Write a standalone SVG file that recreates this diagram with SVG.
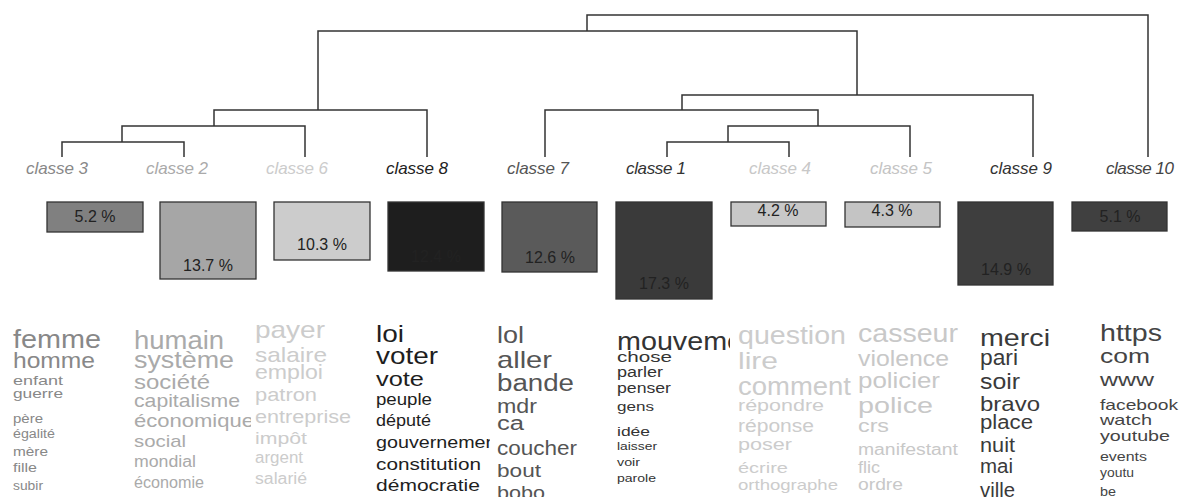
<svg xmlns="http://www.w3.org/2000/svg" width="1199" height="497" viewBox="0 0 1199 497">
<style>
.lbl{font-family:"Liberation Sans",Arial,sans-serif;font-style:italic;font-size:17px;text-anchor:middle}
.box{stroke:#333;stroke-width:1.3}
.pct{font-family:"Liberation Sans",Arial,sans-serif;font-size:16px;fill:#222;text-anchor:middle}
.w{font-family:"Liberation Sans",Arial,sans-serif}
.edge{fill:none;stroke:#333;stroke-width:1.5}
</style>
<defs>
<clipPath id="c2"><rect x="130" y="310" width="121" height="190"/></clipPath>
<clipPath id="c4"><rect x="372" y="310" width="118" height="190"/></clipPath>
<clipPath id="c6"><rect x="612" y="310" width="118" height="190"/></clipPath>
</defs>
<rect width="1199" height="497" fill="#fff"/>
<g id="connectors" class="edge">
<path d="M587,31 V15 H1148 V157"/>
<path d="M318,110 V31 H857 V95"/>
<path d="M214,126 V110 H427 V157"/>
<path d="M122,142 V126 H305 V157"/>
<path d="M62,157 V142 H184 V157"/>
<path d="M682,110 V95 H1033 V157"/>
<path d="M545,157 V110 H818 V126"/>
<path d="M728,142 V126 H910 V157"/>
<path d="M667,157 V142 H789 V157"/>
</g>
<g id="classe3">
<text class="lbl" x="57" y="174" fill="#888" textLength="62" lengthAdjust="spacing">classe 3</text>
<rect class="box" x="47" y="202" width="96" height="30" fill="#808080"/>
<text class="pct" x="95" y="222">5.2 %</text>
<g class="w" fill="#888">
<text x="13" y="348" font-size="26" textLength="88" lengthAdjust="spacingAndGlyphs">femme</text>
<text x="13" y="368" font-size="22" textLength="82" lengthAdjust="spacingAndGlyphs">homme</text>
<text x="13" y="385" font-size="13" textLength="50" lengthAdjust="spacingAndGlyphs">enfant</text>
<text x="13" y="398" font-size="13" textLength="50" lengthAdjust="spacingAndGlyphs">guerre</text>
<text x="13" y="423" font-size="13" textLength="30" lengthAdjust="spacingAndGlyphs">père</text>
<text x="13" y="438" font-size="12" textLength="42" lengthAdjust="spacingAndGlyphs">égalité</text>
<text x="13" y="456" font-size="12" textLength="35" lengthAdjust="spacingAndGlyphs">mère</text>
<text x="13" y="472" font-size="12" textLength="24" lengthAdjust="spacingAndGlyphs">fille</text>
<text x="13" y="490" font-size="12" textLength="30" lengthAdjust="spacingAndGlyphs">subir</text>
</g>
</g>
<g id="classe2">
<text class="lbl" x="177" y="174" fill="#aaa" textLength="62" lengthAdjust="spacing">classe 2</text>
<rect class="box" x="160" y="202" width="96" height="77" fill="#a6a6a6"/>
<text class="pct" x="208" y="271">13.7 %</text>
<g class="w" fill="#aaa" clip-path="url(#c2)">
<text x="134" y="349" font-size="25" textLength="90" lengthAdjust="spacingAndGlyphs">humain</text>
<text x="134" y="368" font-size="24" textLength="100" lengthAdjust="spacingAndGlyphs">système</text>
<text x="134" y="389" font-size="21" textLength="76" lengthAdjust="spacingAndGlyphs">société</text>
<text x="134" y="407" font-size="19" textLength="106" lengthAdjust="spacingAndGlyphs">capitalisme</text>
<text x="134" y="427" font-size="18" textLength="120" lengthAdjust="spacingAndGlyphs">économique</text>
<text x="134" y="447" font-size="17" textLength="52" lengthAdjust="spacingAndGlyphs">social</text>
<text x="134" y="467" font-size="16" textLength="62" lengthAdjust="spacingAndGlyphs">mondial</text>
<text x="134" y="488" font-size="16" textLength="70" lengthAdjust="spacingAndGlyphs">économie</text>
</g>
</g>
<g id="classe6">
<text class="lbl" x="297" y="174" fill="#ccc" textLength="62" lengthAdjust="spacing">classe 6</text>
<rect class="box" x="274" y="202" width="96" height="58" fill="#cccccc"/>
<text class="pct" x="322" y="250">10.3 %</text>
<g class="w" fill="#ccc">
<text x="255" y="338" font-size="24" textLength="70" lengthAdjust="spacingAndGlyphs">payer</text>
<text x="255" y="362" font-size="21" textLength="72" lengthAdjust="spacingAndGlyphs">salaire</text>
<text x="255" y="379" font-size="20" textLength="68" lengthAdjust="spacingAndGlyphs">emploi</text>
<text x="255" y="401" font-size="19" textLength="62" lengthAdjust="spacingAndGlyphs">patron</text>
<text x="255" y="423" font-size="19" textLength="96" lengthAdjust="spacingAndGlyphs">entreprise</text>
<text x="255" y="444" font-size="17" textLength="52" lengthAdjust="spacingAndGlyphs">impôt</text>
<text x="255" y="463" font-size="16" textLength="48" lengthAdjust="spacingAndGlyphs">argent</text>
<text x="255" y="484" font-size="16" textLength="52" lengthAdjust="spacingAndGlyphs">salarié</text>
</g>
</g>
<g id="classe8">
<text class="lbl" x="417" y="174" fill="#222" textLength="62" lengthAdjust="spacing">classe 8</text>
<rect class="box" x="388" y="202" width="96" height="69" fill="#1e1e1e"/>
<text class="pct" x="436" y="262">12.4 %</text>
<g class="w" fill="#1e1e1e" clip-path="url(#c4)">
<text x="376" y="342" font-size="24" textLength="28" lengthAdjust="spacingAndGlyphs">loi</text>
<text x="376" y="364" font-size="24" textLength="62" lengthAdjust="spacingAndGlyphs">voter</text>
<text x="376" y="386" font-size="20" textLength="48" lengthAdjust="spacingAndGlyphs">vote</text>
<text x="376" y="405" font-size="17" textLength="56" lengthAdjust="spacingAndGlyphs">peuple</text>
<text x="376" y="426" font-size="17" textLength="55" lengthAdjust="spacingAndGlyphs">député</text>
<text x="376" y="448" font-size="17" textLength="126" lengthAdjust="spacingAndGlyphs">gouvernement</text>
<text x="376" y="470" font-size="17" textLength="105" lengthAdjust="spacingAndGlyphs">constitution</text>
<text x="376" y="491" font-size="17" textLength="104" lengthAdjust="spacingAndGlyphs">démocratie</text>
</g>
</g>
<g id="classe7">
<text class="lbl" x="538" y="174" fill="#555" textLength="62" lengthAdjust="spacing">classe 7</text>
<rect class="box" x="502" y="202" width="95" height="70" fill="#5a5a5a"/>
<text class="pct" x="550" y="263">12.6 %</text>
<g class="w" fill="#555">
<text x="497" y="343" font-size="24" textLength="27" lengthAdjust="spacingAndGlyphs">lol</text>
<text x="497" y="368" font-size="24" textLength="55" lengthAdjust="spacingAndGlyphs">aller</text>
<text x="497" y="391" font-size="23" textLength="77" lengthAdjust="spacingAndGlyphs">bande</text>
<text x="497" y="413" font-size="21" textLength="40" lengthAdjust="spacingAndGlyphs">mdr</text>
<text x="497" y="430" font-size="20" textLength="27" lengthAdjust="spacingAndGlyphs">ca</text>
<text x="497" y="455" font-size="20" textLength="80" lengthAdjust="spacingAndGlyphs">coucher</text>
<text x="497" y="477" font-size="19" textLength="44" lengthAdjust="spacingAndGlyphs">bout</text>
<text x="497" y="499" font-size="19" textLength="48" lengthAdjust="spacingAndGlyphs">bobo</text>
</g>
</g>
<g id="classe1">
<text class="lbl" x="656" y="174" fill="#333" textLength="60" lengthAdjust="spacing">classe 1</text>
<rect class="box" x="616" y="202" width="96" height="97" fill="#3a3a3a"/>
<text class="pct" x="664" y="289">17.3 %</text>
<g class="w" fill="#333" clip-path="url(#c6)">
<text x="617" y="350" font-size="25" textLength="150" lengthAdjust="spacingAndGlyphs">mouvement</text>
<text x="617" y="362" font-size="15" textLength="55" lengthAdjust="spacingAndGlyphs">chose</text>
<text x="617" y="377" font-size="14" textLength="46" lengthAdjust="spacingAndGlyphs">parler</text>
<text x="617" y="393" font-size="14" textLength="54" lengthAdjust="spacingAndGlyphs">penser</text>
<text x="617" y="411" font-size="13" textLength="37" lengthAdjust="spacingAndGlyphs">gens</text>
<text x="617" y="436" font-size="13" textLength="33" lengthAdjust="spacingAndGlyphs">idée</text>
<text x="617" y="450" font-size="11" textLength="40" lengthAdjust="spacingAndGlyphs">laisser</text>
<text x="617" y="466" font-size="11" textLength="23" lengthAdjust="spacingAndGlyphs">voir</text>
<text x="617" y="482" font-size="11" textLength="39" lengthAdjust="spacingAndGlyphs">parole</text>
</g>
</g>
<g id="classe4">
<text class="lbl" x="780" y="174" fill="#c8c8c8" textLength="62" lengthAdjust="spacing">classe 4</text>
<rect class="box" x="731" y="202" width="95" height="24" fill="#c8c8c8"/>
<text class="pct" x="778" y="216">4.2 %</text>
<g class="w" fill="#ccc">
<text x="738" y="344" font-size="25" textLength="108" lengthAdjust="spacingAndGlyphs">question</text>
<text x="738" y="369" font-size="24" textLength="40" lengthAdjust="spacingAndGlyphs">lire</text>
<text x="738" y="395" font-size="25" textLength="113" lengthAdjust="spacingAndGlyphs">comment</text>
<text x="738" y="411" font-size="17" textLength="86" lengthAdjust="spacingAndGlyphs">répondre</text>
<text x="738" y="432" font-size="18" textLength="76" lengthAdjust="spacingAndGlyphs">réponse</text>
<text x="738" y="450" font-size="17" textLength="54" lengthAdjust="spacingAndGlyphs">poser</text>
<text x="738" y="473" font-size="15" textLength="50" lengthAdjust="spacingAndGlyphs">écrire</text>
<text x="738" y="490" font-size="15" textLength="100" lengthAdjust="spacingAndGlyphs">orthographe</text>
</g>
</g>
<g id="classe5">
<text class="lbl" x="901" y="174" fill="#c4c4c4" textLength="62" lengthAdjust="spacing">classe 5</text>
<rect class="box" x="845" y="202" width="95" height="25" fill="#c4c4c4"/>
<text class="pct" x="892" y="216">4.3 %</text>
<g class="w" fill="#c8c8c8">
<text x="858" y="342" font-size="25" textLength="100" lengthAdjust="spacingAndGlyphs">casseur</text>
<text x="858" y="366" font-size="22" textLength="91" lengthAdjust="spacingAndGlyphs">violence</text>
<text x="858" y="388" font-size="22" textLength="82" lengthAdjust="spacingAndGlyphs">policier</text>
<text x="858" y="413" font-size="22" textLength="75" lengthAdjust="spacingAndGlyphs">police</text>
<text x="858" y="432" font-size="18" textLength="31" lengthAdjust="spacingAndGlyphs">crs</text>
<text x="858" y="455" font-size="16" textLength="100" lengthAdjust="spacingAndGlyphs">manifestant</text>
<text x="858" y="473" font-size="16" textLength="22" lengthAdjust="spacingAndGlyphs">flic</text>
<text x="858" y="490" font-size="16" textLength="45" lengthAdjust="spacingAndGlyphs">ordre</text>
</g>
</g>
<g id="classe9">
<text class="lbl" x="1021" y="174" fill="#333" textLength="62" lengthAdjust="spacing">classe 9</text>
<rect class="box" x="958" y="202" width="95" height="83" fill="#3e3e3e"/>
<text class="pct" x="1006" y="275">14.9 %</text>
<g class="w" fill="#3a3a3a">
<text x="980" y="346" font-size="24" textLength="70" lengthAdjust="spacingAndGlyphs">merci</text>
<text x="980" y="365" font-size="22" textLength="38" lengthAdjust="spacingAndGlyphs">pari</text>
<text x="980" y="389" font-size="22" textLength="40" lengthAdjust="spacingAndGlyphs">soir</text>
<text x="980" y="411" font-size="21" textLength="60" lengthAdjust="spacingAndGlyphs">bravo</text>
<text x="980" y="429" font-size="20" textLength="53" lengthAdjust="spacingAndGlyphs">place</text>
<text x="980" y="452" font-size="20" textLength="35" lengthAdjust="spacingAndGlyphs">nuit</text>
<text x="980" y="473" font-size="20" textLength="33" lengthAdjust="spacingAndGlyphs">mai</text>
<text x="980" y="497" font-size="20" textLength="35" lengthAdjust="spacingAndGlyphs">ville</text>
</g>
</g>
<g id="classe10">
<text class="lbl" x="1140" y="174" fill="#444" textLength="68" lengthAdjust="spacing">classe 10</text>
<rect class="box" x="1072" y="202" width="95" height="29" fill="#404040"/>
<text class="pct" x="1120" y="222">5.1 %</text>
<g class="w" fill="#444">
<text x="1100" y="341" font-size="24" textLength="62" lengthAdjust="spacingAndGlyphs">https</text>
<text x="1100" y="363" font-size="21" textLength="50" lengthAdjust="spacingAndGlyphs">com</text>
<text x="1100" y="386" font-size="19" textLength="54" lengthAdjust="spacingAndGlyphs">www</text>
<text x="1100" y="410" font-size="15" textLength="78" lengthAdjust="spacingAndGlyphs">facebook</text>
<text x="1100" y="425" font-size="15" textLength="52" lengthAdjust="spacingAndGlyphs">watch</text>
<text x="1100" y="441" font-size="15" textLength="70" lengthAdjust="spacingAndGlyphs">youtube</text>
<text x="1100" y="461" font-size="12" textLength="47" lengthAdjust="spacingAndGlyphs">events</text>
<text x="1100" y="477" font-size="12" textLength="34" lengthAdjust="spacingAndGlyphs">youtu</text>
<text x="1100" y="496" font-size="12" textLength="16" lengthAdjust="spacingAndGlyphs">be</text>
</g>
</g>
</svg>
